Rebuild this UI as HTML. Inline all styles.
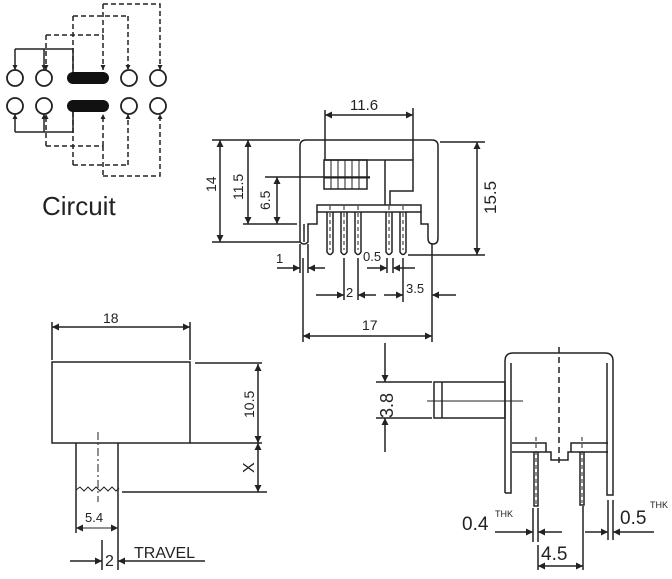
<!DOCTYPE html>
<html><head><meta charset="utf-8"><style>
html,body{margin:0;padding:0;background:#fff;}
svg{display:block;}
text{font-family:"Liberation Sans",Arial,sans-serif;fill:#222;}
</style></head><body>
<svg width="672" height="579" viewBox="0 0 672 579" xmlns="http://www.w3.org/2000/svg">
<defs>
<marker id="a" viewBox="0 0 10 10" refX="10" refY="5" markerWidth="9" markerHeight="7" markerUnits="userSpaceOnUse" orient="auto"><path d="M0,0 L10,5 L0,10 z" fill="#222"/></marker>
<marker id="s" viewBox="0 0 10 10" refX="10" refY="5" markerWidth="6" markerHeight="5" markerUnits="userSpaceOnUse" orient="auto"><path d="M0,0 L10,5 L0,10 z" fill="#222"/></marker>
</defs>
<g stroke="#222" stroke-width="1.5" fill="none">
<!-- Circuit -->
<g stroke-width="1.8">
<circle cx="15" cy="78" r="8"/><circle cx="44" cy="78" r="8"/><circle cx="129" cy="78" r="8"/><circle cx="158" cy="78" r="8"/>
<circle cx="15" cy="106" r="8"/><circle cx="44" cy="106" r="8"/><circle cx="129" cy="106" r="8"/><circle cx="158" cy="106" r="8"/>
</g>
<rect x="67" y="72" width="42" height="12" rx="6" fill="#111" stroke="none"/>
<rect x="67" y="100" width="42" height="12" rx="6" fill="#111" stroke="none"/>
<path d="M15,49 H73 V72" /><path d="M15,49 V70" marker-end="url(#s)"/><path d="M44,49 V70" marker-end="url(#s)"/>
<path d="M15,132 H73 V112" /><path d="M15,132 V114" marker-end="url(#s)"/><path d="M44,132 V114" marker-end="url(#s)"/>
<g stroke-dasharray="5,3">
<path d="M46,35 H103"/><path d="M46,35 V70" marker-end="url(#s)"/><path d="M103,35 V70" marker-end="url(#s)"/>
<path d="M73,16 H128"/><path d="M73,16 V72"/><path d="M128,16 V70" marker-end="url(#s)"/>
<path d="M103,4 H160 V70" marker-end="url(#s)"/><path d="M103,4 V35"/>
<path d="M46,146 H103"/><path d="M46,146 V114" marker-end="url(#s)"/><path d="M103,146 V114" marker-end="url(#s)"/>
<path d="M73,165 H128"/><path d="M73,165 V112"/><path d="M128,165 V114" marker-end="url(#s)"/>
<path d="M103,176 H160 V114" marker-end="url(#s)"/><path d="M103,146 V176"/>
</g>
<!-- Top view -->
<path d="M300,242 V146 Q300,140 306,140 H432 Q438,140 438,146 V238 Q438,244 433,244 Q428,244 428,238 V224 L421,224 V212"/>
<path d="M300,242 Q304,246 308,242 V224 L317,224 V212"/>
<path d="M304,242 V224"/>
<rect x="317" y="205" width="104" height="7"/>
<path d="M385,160 V205 M325,160 H413 V191 H390 V205"/>
<rect x="324" y="160" width="43" height="29"/>
<path d="M331,160 V189 M338,160 V189 M345,160 V189 M352,160 V189 M359,160 V189" stroke-width="1"/>
<path d="M324,178 H370" stroke-width="1"/>
<path d="M327,212 V252 Q330,257 333,252 V212 M341,212 V252 Q344,257 347,252 V212 M355,212 V252 Q358,257 361,252 V212 M386,212 V252 Q389,257 392,252 V212 M400,212 V252 Q403,257 406,252 V212"/>
<path d="M330,206 V250 M344,206 V250 M358,206 V250 M389,206 V250 M403,206 V250" stroke-dasharray="4,3" stroke-width="1"/>
<!-- top dims -->
<path d="M325,110 V160 M413,108 V160"/><path d="M369,115 H325" marker-end="url(#a)"/><path d="M369,115 H413" marker-end="url(#a)"/>
<path d="M212,140 H300 M212,242 H300"/><path d="M220,190 V140" marker-end="url(#a)"/><path d="M220,190 V242" marker-end="url(#a)"/>
<path d="M243,224 H297"/><path d="M248,180 V140" marker-end="url(#a)"/><path d="M248,180 V224" marker-end="url(#a)"/>
<path d="M265,177 H370"/><path d="M277,200 V177" marker-end="url(#a)"/><path d="M277,200 V224" marker-end="url(#a)"/>
<path d="M440,142 H485 M408,255 H485"/><path d="M477,198 V142" marker-end="url(#a)"/><path d="M477,198 V255" marker-end="url(#a)"/>
<path d="M300,244 V273 M308,244 V273"/><path d="M277,268 H300" marker-end="url(#a)"/><path d="M325,268 H308" marker-end="url(#a)"/>
<path d="M387,258 V273 M393,258 V273"/><path d="M367,268 H387" marker-end="url(#a)"/><path d="M415,268 H393" marker-end="url(#a)"/>
<path d="M344,258 V300 M358,258 V300"/><path d="M316,295 H344" marker-end="url(#a)"/><path d="M376,295 H358" marker-end="url(#a)"/>
<path d="M403,258 V302"/><path d="M384,295 H403" marker-end="url(#a)"/><path d="M456,295 H432" marker-end="url(#a)"/>
<path d="M303,258 V342 M432,244 V342"/><path d="M367,336 H303" marker-end="url(#a)"/><path d="M367,336 H432" marker-end="url(#a)"/>
<!-- bottom left -->
<rect x="52" y="362" width="138" height="81"/>
<path d="M52,322 V360 M190,322 V360"/><path d="M121,327 H52" marker-end="url(#a)"/><path d="M121,327 H190" marker-end="url(#a)"/>
<path d="M195,363 H262 M190,443 H262 M122,492 H267"/>
<path d="M258,403 V364" marker-end="url(#a)"/><path d="M258,403 V443" marker-end="url(#a)"/>
<path d="M258,467 V443" marker-end="url(#a)"/><path d="M258,467 V492" marker-end="url(#a)"/>
<path d="M76,443 V533 M118,443 V570"/>
<path d="M76,490 l4,-3 4,4 4,-4 4,4 4,-4 4,4 4,-4 4,4 4,-4 4,4 3,-3" stroke-width="1"/>
<path d="M98,432 V502" stroke-dasharray="8,3,2,3" stroke-width="1"/>
<path d="M97,528 H76" marker-end="url(#a)" stroke-width="1"/><path d="M97,528 H118" marker-end="url(#a)" stroke-width="1"/>
<path d="M102,540 V570"/><path d="M70,561 H102" marker-end="url(#a)"/><path d="M205,561 H118" marker-end="url(#a)"/>
<!-- bottom right -->
<path d="M505,493 V361 Q505,353 513,353 H605 Q613,353 613,361 V495 H607 V363"/>
<path d="M505,493 H511 V363"/>
<path d="M559,347 V467" stroke-dasharray="6,4"/>
<path d="M512,443 H546 V452 H512 M608,443 H571 V452 H608 M546,452 H551 V460 H568 V452 H571"/>
<path d="M534,452 V506 H538 V452 M580,452 V505 H584 V452"/>
<path d="M536,437 V504 M582,437 V503" stroke-dasharray="4,3" stroke-width="1"/>
<rect x="434" y="382" width="71" height="36"/><path d="M442,382 V418"/>
<path d="M427,401 H523" stroke-width="1"/>
<path d="M376,382 H432 M376,418 H432"/>
<path d="M385,343 V382" marker-end="url(#a)"/><path d="M385,452 V418" marker-end="url(#a)"/>
<path d="M533,508 V542 M538,508 V542"/><path d="M495,532 H533" marker-end="url(#a)"/><path d="M562,532 H538" marker-end="url(#a)"/>
<path d="M538,545 V570 M583,506 V570"/><path d="M560,566 H538" marker-end="url(#a)"/><path d="M560,566 H583" marker-end="url(#a)"/>
<path d="M608,500 V540 M613,500 V540"/><path d="M585,532 H608" marker-end="url(#a)"/><path d="M654,532 H613" marker-end="url(#a)"/>
</g>
<!-- text -->
<text x="42" y="215" font-size="26">Circuit</text>
<text x="350" y="110" font-size="15">11.6</text>
<text transform="translate(216,192) rotate(-90)" font-size="14">14</text>
<text transform="translate(243,200) rotate(-90)" font-size="14">11.5</text>
<text transform="translate(270,210) rotate(-90)" font-size="14">6.5</text>
<text transform="translate(496,214) rotate(-90)" font-size="17">15.5</text>
<text x="276" y="263" font-size="13">1</text>
<text x="363" y="261" font-size="13">0.5</text>
<text x="346" y="297" font-size="13">2</text>
<text x="406" y="293" font-size="13">3.5</text>
<text x="362" y="330" font-size="14">17</text>
<text x="103" y="323" font-size="14">18</text>
<text transform="translate(254,418) rotate(-90)" font-size="14">10.5</text>
<text transform="translate(254,473) rotate(-90)" font-size="16">X</text>
<text x="85" y="522" font-size="13">5.4</text>
<text x="105" y="566" font-size="16">2</text>
<text x="134" y="558" font-size="16">TRAVEL</text>
<text transform="translate(393,418) rotate(-90)" font-size="18">3.8</text>
<text x="462" y="530" font-size="19">0.4</text><text x="495" y="517" font-size="9">THK</text>
<text x="541" y="560" font-size="19">4.5</text>
<text x="620" y="524" font-size="19">0.5</text><text x="650" y="508" font-size="9">THK</text>
</svg>
</body></html>
